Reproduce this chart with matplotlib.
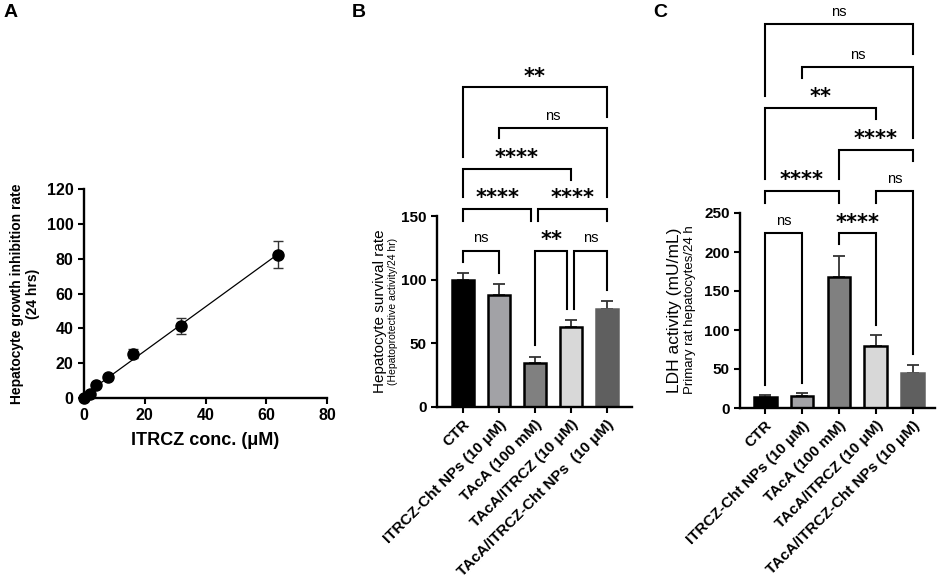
import numpy as np
import matplotlib
matplotlib.use("Agg")
import matplotlib.pyplot as plt

plt.rcParams['font.family'] = ['Liberation Sans', 'DejaVu Sans']

# panel A: inhibition vs concentration
conc = [0, 2, 4, 8, 16, 32, 64]
inhib = [0, 2.3, 7.6, 12.3, 25.5, 41.3, 82.3]
inhib_err = [0, 0.5, 0.8, 1.0, 2.8, 4.8, 7.7]

# panels B and C: groups
groups_b = ['CTR', 'ITRCZ-Cht NPs (10 μM)', 'TAcA (100 mM)', 'TAcA/ITRCZ (10 μM)', 'TAcA/ITRCZ-Cht NPs  (10 μM)']
groups_c = ['CTR', 'ITRCZ-Cht NPs (10 μM)', 'TAcA (100 mM)', 'TAcA/ITRCZ (10 μM)', 'TAcA/ITRCZ-Cht NPs (10 μM)']
survival = [100, 88, 34.8, 62.5, 77]
survival_err = [5, 8.5, 4.5, 5.5, 6]
ldh = [14, 16, 168, 80, 45]
ldh_err = [2.5, 3, 27, 13, 10]

# comparisons (i, j, label)
comp_b = [(0, 1, 'ns'), (2, 3, '**'), (3, 4, 'ns'), (0, 2, '****'),
          (2, 4, '****'), (0, 3, '****'), (1, 4, 'ns'), (0, 4, '**')]
comp_c = [(0, 1, 'ns'), (2, 3, '****'), (3, 4, 'ns'), (0, 2, '****'),
          (2, 4, '****'), (0, 3, '**'), (1, 4, 'ns'), (0, 4, 'ns')]

# bracket layout: top, left foot, right foot, left dx, right dx
lay_b = [(122.5, 114, 105, 0, 0), (122.5, 49, 77, 0, -0.1), (122.5, 77, 92, 0.08, 0),
         (155.5, 146, 146, 0, -0.1), (155.5, 146, 146, 0.08, 0), (187, 165, 178, 0, 0),
         (219, 211, 165, 0, 0), (251, 196, 228, 0, 0)]
lay_c = [(224, 29.5, 32, 0, 0), (224, 210, 107, 0, 0), (278, 263, 69, 0, 0),
         (278, 263, 263, 0, 0), (331, 293, 317, 0, 0), (385, 293, 370, 0, 0),
         (437, 423, 346, 0, 0), (492, 400, 454, 0, 0)]

bar_colors = ['#000000', '#a2a2a6', '#808080', '#d8d8d8', '#5f5f5f']
bar_edges = ['black', 'black', 'black', 'black', '#5f5f5f']

W, H = 941, 578
fig = plt.figure(figsize=(W / 100, H / 100), dpi=100)


def box(l, t, r, b):
    return [l / W, 1 - b / H, (r - l) / W, (b - t) / H]


def style(ax):
    for s in ['top', 'right']:
        ax.spines[s].set_visible(False)
    for s in ['left', 'bottom']:
        ax.spines[s].set_linewidth(1.7)
    ax.tick_params(direction='out', length=4, width=1.5, labelsize=11)
    for lab in ax.get_yticklabels():
        lab.set_fontweight('bold')


# ---- A
axA = fig.add_axes(box(84, 189, 327, 398))
k, b0 = np.polyfit(conc, inhib, 1)
xs = np.array([0, max(conc)])
axA.plot(xs, k * xs + b0, color='black', lw=0.9)
axA.errorbar(conc, inhib, yerr=inhib_err, fmt='o', color='black', ms=8,
             ecolor='#333333', elinewidth=1.0, capsize=3.5, capthick=1.0, clip_on=False, zorder=3)
axA.set_xlim(0, 80)
axA.set_ylim(0, 120)
axA.set_xticks([0, 20, 40, 60, 80])
axA.set_yticks([0, 20, 40, 60, 80, 100, 120])
style(axA)
axA.tick_params(labelsize=11.5)
for lab in axA.get_xticklabels() + axA.get_yticklabels():
    lab.set_fontweight('bold')
axA.set_xlabel('ITRCZ conc. (μM)', fontsize=13, fontweight='bold', labelpad=6)
fig.text(25 / W, 1 - 294 / H, 'Hepatocyte growth inhibition rate\n(24 hrs)', rotation=90,
         ha='center', va='center', fontsize=10, fontweight='bold', linespacing=1.1)


def bar_panel(rect, vals, errs, labels, ylim, yticks, comps, lay, xlim):
    ax = fig.add_axes(rect)
    x = np.arange(len(vals))
    ax.errorbar(x, vals, yerr=[np.zeros(len(errs)), errs], fmt='none', ecolor='#333333',
                elinewidth=1.3, capsize=4, capthick=1.3, zorder=1)
    ax.bar(x, vals, width=0.62, color=bar_colors, edgecolor=bar_edges, linewidth=1.8, zorder=2)
    ax.set_xlim(*xlim)
    ax.set_ylim(*ylim)
    ax.set_yticks(yticks)
    ax.set_xticks(x)
    ax.set_xticklabels(labels, rotation=45, ha='right', rotation_mode='anchor',
                       fontsize=10, fontweight='bold')
    style(ax)
    for (i, j, lab), (top, fl, fr, dl, dr) in zip(comps, lay):
        xl, xr = i + dl, j + dr
        ax.plot([xl, xl, xr, xr], [fl, top, top, fr], color='black', lw=1.5,
                clip_on=False, solid_joinstyle='miter')
        if lab == 'ns':
            ax.annotate(lab, ((xl + xr) / 2, top), xytext=(0, 4), textcoords='offset points',
                        ha='center', va='bottom', fontsize=10.5, annotation_clip=False)
        else:
            ax.annotate(lab, ((xl + xr) / 2, top), xytext=(0, 0.5), textcoords='offset points',
                        ha='center', va='bottom', fontsize=15, fontweight='bold',
                        family='DejaVu Sans', annotation_clip=False)
    return ax


axB = bar_panel(box(437, 216, 632, 407), survival, survival_err, groups_b, (0, 150),
                [0, 50, 100, 150], comp_b, lay_b, (-0.72, 4.69))
fig.text(380 / W, 1 - 311 / H, 'Hepatocyte survival rate', rotation=90, ha='center',
         va='center', fontsize=11)
fig.text(393 / W, 1 - 311 / H, '(Hepatoprotective activity/24 hr)', rotation=90, ha='center',
         va='center', fontsize=7.5)

axC = bar_panel(box(740, 213, 935, 408), ldh, ldh_err, groups_c, (0, 250),
                [0, 50, 100, 150, 200, 250], comp_c, lay_c, (-0.68, 4.6))
fig.text(675 / W, 1 - 310 / H, 'LDH activity (mU/mL)', rotation=90, ha='center',
         va='center', fontsize=12.5)
fig.text(690 / W, 1 - 310 / H, 'Primary rat hepatocytes/24 h', rotation=90, ha='center',
         va='center', fontsize=9.5)

for lab, xp in [('A', 4), ('B', 352), ('C', 653)]:
    fig.text(xp / W, 1 - 4 / H, lab, ha='left', va='top', fontsize=14, fontweight='bold')

fig.savefig('out.png', dpi=100)
